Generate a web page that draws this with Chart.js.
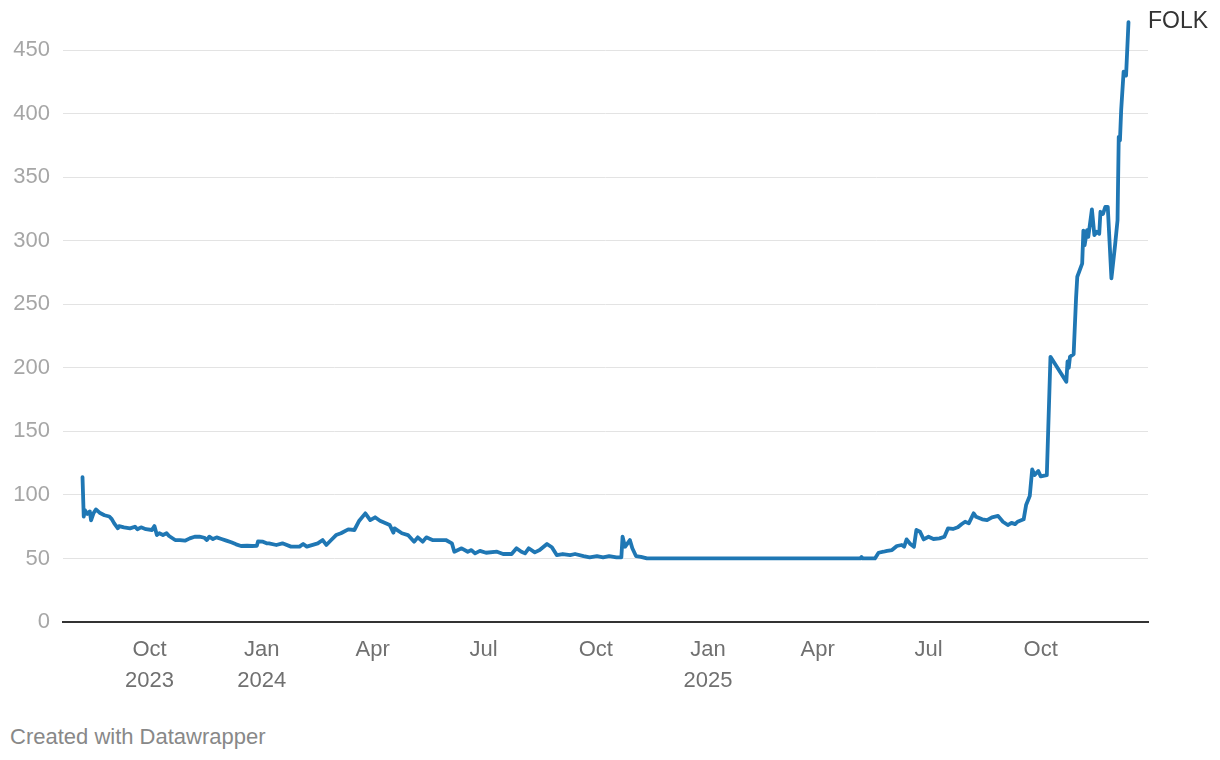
<!DOCTYPE html>
<html>
<head>
<meta charset="utf-8">
<title>FOLK</title>
<script src="https://cdn.jsdelivr.net/npm/chart.js@4.4.1/dist/chart.umd.min.js"></script>
<style>
  body { margin: 0; background: #fff; overflow: hidden; font-family: "Liberation Sans", Arial, sans-serif; }
  #wrap { position: absolute; left: 0; top: 0; width: 1220px; height: 700px; }
  #seriesLabel { position: absolute; left: 1148px; top: 9px; font-size: 23px; line-height: 23px; color: #333; }
  #footer { position: absolute; left: 10px; top: 726px; font-size: 22px; line-height: 22px; color: #888; }
</style>
</head>
<body>
<div id="wrap"><canvas id="chart"></canvas></div>
<div id="seriesLabel">FOLK</div>
<div id="footer">Created with Datawrapper</div>
<script>
// Series
const seriesName = 'FOLK';
const dates = [
  '2023-08-07','2023-08-08','2023-08-09','2023-08-11','2023-08-13','2023-08-14','2023-08-16','2023-08-18',
  '2023-08-21','2023-08-25','2023-08-29','2023-08-31','2023-09-02','2023-09-05','2023-09-06','2023-09-10',
  '2023-09-15','2023-09-19','2023-09-21','2023-09-24','2023-09-28','2023-10-03','2023-10-05','2023-10-07',
  '2023-10-09','2023-10-12','2023-10-15','2023-10-17','2023-10-22','2023-10-26','2023-10-30','2023-11-03',
  '2023-11-07','2023-11-11','2023-11-15','2023-11-17','2023-11-19','2023-11-22','2023-11-25','2023-11-29',
  '2023-12-03','2023-12-07','2023-12-11','2023-12-15','2023-12-20','2023-12-24','2023-12-28','2023-12-29',
  '2024-01-02','2024-01-05','2024-01-07','2024-01-13','2024-01-18','2024-01-25','2024-02-01','2024-02-04',
  '2024-02-07','2024-02-16','2024-02-20','2024-02-23','2024-02-27','2024-03-02','2024-03-06','2024-03-12',
  '2024-03-17','2024-03-21','2024-03-26','2024-03-30','2024-04-03','2024-04-07','2024-04-15','2024-04-18',
  '2024-04-19','2024-04-25','2024-04-30','2024-05-05','2024-05-08','2024-05-12','2024-05-15','2024-05-20',
  '2024-05-31','2024-06-05','2024-06-07','2024-06-13','2024-06-18','2024-06-21','2024-06-24','2024-06-28',
  '2024-07-03','2024-07-12','2024-07-17','2024-07-24','2024-07-28','2024-08-01','2024-08-04','2024-08-07',
  '2024-08-12','2024-08-16','2024-08-22','2024-08-26','2024-08-30','2024-09-04','2024-09-10','2024-09-14',
  '2024-09-21','2024-09-26','2024-10-02','2024-10-07','2024-10-12','2024-10-18','2024-10-22','2024-10-23',
  '2024-10-25','2024-10-29','2024-10-31','2024-11-03','2024-11-07','2024-11-12','2025-01-15','2025-03-15',
  '2025-05-06','2025-05-07','2025-05-08','2025-05-18','2025-05-21','2025-05-25','2025-05-28','2025-06-01',
  '2025-06-05','2025-06-09','2025-06-11','2025-06-13','2025-06-16','2025-06-19','2025-06-21','2025-06-24',
  '2025-06-27','2025-07-01','2025-07-05','2025-07-10','2025-07-14','2025-07-17','2025-07-21','2025-07-25',
  '2025-07-28','2025-07-31','2025-08-03','2025-08-07','2025-08-09','2025-08-14','2025-08-18','2025-08-22',
  '2025-08-27','2025-08-31','2025-09-04','2025-09-07','2025-09-10','2025-09-12','2025-09-17','2025-09-19',
  '2025-09-22','2025-09-24','2025-09-26','2025-09-29','2025-10-01','2025-10-06','2025-10-09','2025-10-22',
  '2025-10-23','2025-10-24','2025-10-25','2025-10-28','2025-10-30','2025-10-31','2025-11-04','2025-11-05',
  '2025-11-06','2025-11-08','2025-11-09','2025-11-12','2025-11-14','2025-11-16','2025-11-18','2025-11-19',
  '2025-11-21','2025-11-23','2025-11-25','2025-11-28','2025-12-01','2025-12-03','2025-12-04','2025-12-05',
  '2025-12-06','2025-12-08','2025-12-10','2025-12-12'
];
const values = [
  114, 83, 88, 85, 87, 80, 85.5, 88.6,
  86, 84, 83, 81, 77.6, 73.7, 75.5, 74.5,
  73.7, 75, 73, 74.5, 73, 72.4, 75.5, 68.4,
  69.8, 68.4, 69.8, 67.7, 64.5, 64.5, 64, 65.8,
  67.1, 67.1, 66.3, 64.5, 67.1, 65.3, 66.6, 65.3,
  64, 62.7, 61.1, 59.8, 60, 59.8, 60, 63.5,
  63.2, 61.9, 61.9, 60.6, 61.9, 59.3, 59.3, 61.4,
  59.3, 61.9, 64.5, 60.6, 64.5, 68.4, 69.8, 72.9,
  72.4, 79.7, 85.5, 80.2, 82.4, 79.7, 76.3, 70.3,
  73.7, 69.8, 68.4, 63.2, 66.6, 63.2, 66.6, 64.5,
  64.5, 61.9, 55.3, 58, 55.3, 56.6, 54, 56,
  54.5, 55.3, 53.5, 53.5, 58, 55.3, 54, 58,
  54.8, 56.6, 61.4, 58.8, 52.7, 53.5, 52.7, 53.5,
  51.9, 50.9, 51.9, 50.9, 51.9, 50.9, 50.9, 67.1,
  59.2, 64.5, 58, 51.9, 51.3, 50, 50, 50,
  50, 51.2, 50, 50, 54.5, 55.3, 56, 56.6,
  59.8, 60.6, 59.3, 65, 61.4, 59.2, 72.4, 71,
  65, 67.1, 65.3, 65.8, 67.1, 73.7, 73.2, 74.5,
  76.9, 78.9, 77.6, 85.5, 82.8, 80.8, 80.2, 82.4,
  83.5, 78.9, 76.3, 78, 77, 78.9, 80.8, 92,
  99.1, 120, 115.6, 118.8, 114.6, 115.6, 208.7, 189,
  205, 200, 208.7, 210.8, 255, 271.7, 282, 308,
  296.6, 308.4, 303, 324.7, 304.5, 307, 305.5, 322.8,
  321, 326.7, 326.7, 270.4, 296.6, 316, 381.8, 379,
  403, 433, 430, 472
];
const xTickDates = ['2023-10-01','2024-01-01','2024-04-01','2024-07-01','2024-10-01','2025-01-01','2025-04-01','2025-07-01','2025-10-01'];
const xTickLabels = [['Oct','2023'],['Jan','2024'],'Apr','Jul','Oct',['Jan','2025'],'Apr','Jul','Oct'];
const yTicks = [0, 50, 100, 150, 200, 250, 300, 350, 400, 450];

// days since epoch, so a plain linear scale works without a date adapter
const day = s => Date.parse(s + 'T00:00:00Z') / 864e5;

const points = dates.map((d, i) => ({ x: day(d), y: values[i] }));

new Chart(document.getElementById('chart').getContext('2d'), {
  type: 'line',
  data: {
    datasets: [{
      label: seriesName,
      data: points,
      borderColor: '#1f77b4',
      borderWidth: 3.8,
      borderJoinStyle: 'round',
      borderCapStyle: 'round',
      pointRadius: 0,
      tension: 0,
      fill: false,
      clip: false
    }]
  },
  options: {
    responsive: true,
    maintainAspectRatio: false,
    animation: false,
    layout: { padding: { top: 0, right: 72, left: 0, bottom: 0 } },
    plugins: { legend: { display: false }, tooltip: { enabled: false } },
    scales: {
      x: {
        type: 'linear',
        min: day('2023-07-22'),
        max: day('2025-12-28'),
        afterBuildTicks: s => { s.ticks = xTickDates.map(d => ({ value: day(d) })); },
        afterFit: s => { s.height = 78; },
        grid: { display: false },
        border: { display: true, color: '#333', width: 2 },
        ticks: {
          autoSkip: false,
          maxRotation: 0,
          padding: 5,
          color: '#707070',
          font: { family: 'Liberation Sans', size: 22, lineHeight: 1.4 },
          callback: (v, i) => xTickLabels[i]
        }
      },
      y: {
        min: 0,
        max: 480,
        afterBuildTicks: s => { s.ticks = yTicks.map(v => ({ value: v })); },
        afterFit: s => { s.width = 63; s.paddingTop = 12; },
        grid: { color: '#e3e3e3', lineWidth: 1, drawTicks: false },
        border: { display: false },
        ticks: {
          padding: 13,
          color: '#a6a6a6',
          font: { family: 'Liberation Sans', size: 22 },
          callback: v => v
        }
      }
    }
  }
});
</script>
</body>
</html>
